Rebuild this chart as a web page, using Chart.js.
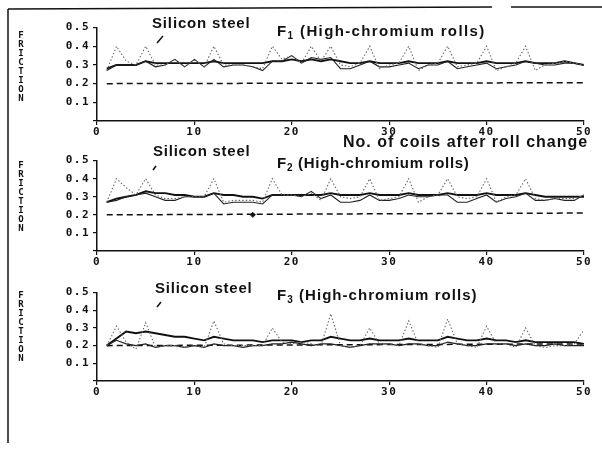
<!DOCTYPE html>
<html><head><meta charset="utf-8">
<script src="https://cdn.jsdelivr.net/npm/chart.js@4.4.1/dist/chart.umd.min.js"></script>
<style>
html,body{margin:0;padding:0;background:#fff;}
#wrap{position:relative;width:602px;height:450px;overflow:hidden;background:#fff;font-family:"Liberation Sans",Arial,sans-serif;color:#111;}
canvas{position:absolute;left:0;}
.lbl{position:absolute;font-weight:bold;font-size:15px;line-height:15px;white-space:nowrap;}
.lbl sub{font-size:10px;vertical-align:-3px;line-height:0;}
.yt{position:absolute;left:17px;width:8px;font:bold 9px/9px "DejaVu Sans Mono",monospace;word-break:break-all;text-align:center;}
svg{position:absolute;left:0;top:0;}
</style></head>
<body><div id="wrap">
<canvas id="c1" width="602" height="123" style="top:18px"></canvas>
<canvas id="c2" width="602" height="120" style="top:151px"></canvas>
<canvas id="c3" width="602" height="118" style="top:283px"></canvas>

<svg width="602" height="450">
  <g stroke="#111" stroke-width="1.5" fill="none">
    <line x1="8" y1="9" x2="492" y2="7"/>
    <line x1="511" y1="7" x2="602" y2="7"/>
    <line x1="8" y1="9" x2="8" y2="443"/>
    <line x1="163" y1="36" x2="157" y2="43"/>
    <line x1="156" y1="166" x2="153" y2="170"/>
    <line x1="161" y1="302" x2="157" y2="307"/>
  </g>
</svg>

<div class="yt" style="top:31px">FRICTION</div>
<div class="yt" style="top:161px">FRICTION</div>
<div class="yt" style="top:291px">FRICTION</div>

<div class="lbl" style="left:152px;top:15px" data-w="99">Silicon steel</div>
<div class="lbl" style="left:277px;top:23px" data-w="209">F<sub>1</sub> (High-chromium rolls)</div>
<div class="lbl" style="left:343px;top:134px;font-size:16px;line-height:16px" data-w="245">No. of coils after roll change</div>
<div class="lbl" style="left:153px;top:143px" data-w="98">Silicon steel</div>
<div class="lbl" style="left:277px;top:155px" data-w="193">F<sub>2</sub> (High-chromium rolls)</div>
<div class="lbl" style="left:155px;top:280px" data-w="98">Silicon steel</div>
<div class="lbl" style="left:277px;top:287px" data-w="201">F<sub>3</sub> (High-chromium rolls)</div>
</div>

<script>
/* friction vs. coils after roll change, stands F1-F3 */
const coils=[1,2,3,4,5,6,7,8,9,10,11,12,13,14,15,16,17,18,19,20,21,22,23,24,25,
  26,27,28,29,30,31,32,33,34,35,36,37,38,39,40,41,42,43,44,45,46,47,48,49,50];
const baseX=[1,50];

const f1Dotted=[.27,.40,.32,.30,.40,.30,.30,.33,.29,.33,.29,.40,.30,.30,.30,.29,.28,.40,.33,.35,
  .31,.40,.32,.40,.30,.29,.31,.40,.28,.30,.31,.40,.27,.30,.31,.40,.29,.30,.31,.40,
  .27,.29,.31,.40,.27,.30,.31,.32,.31,.30];
const f1Thin=[.27,.30,.30,.30,.32,.29,.30,.33,.29,.33,.29,.33,.29,.30,.30,.29,.27,.32,.32,.35,
  .31,.34,.33,.34,.28,.28,.30,.32,.29,.29,.30,.31,.28,.30,.30,.32,.28,.29,.30,.31,
  .28,.29,.30,.32,.31,.30,.30,.31,.31,.30];
const f1Solid=[.28,.30,.30,.30,.32,.31,.31,.31,.31,.31,.31,.32,.31,.31,.31,.31,.31,.32,.32,.33,
  .32,.33,.32,.33,.32,.31,.31,.32,.31,.31,.31,.32,.31,.31,.31,.32,.31,.31,.31,.32,
  .31,.31,.31,.32,.31,.31,.31,.32,.31,.30];
const f1Base=[.20,.205];

const f2Dotted=[.27,.40,.35,.31,.40,.31,.29,.29,.30,.30,.30,.40,.27,.28,.28,.28,.27,.40,.31,.31,
  .30,.32,.28,.40,.30,.29,.30,.40,.28,.29,.30,.40,.27,.30,.31,.40,.30,.29,.30,.40,
  .27,.30,.31,.40,.29,.28,.29,.29,.29,.31];
const f2Thin=[.27,.28,.30,.31,.32,.30,.28,.28,.30,.30,.30,.32,.26,.27,.27,.27,.26,.31,.31,.31,
  .30,.33,.29,.31,.27,.27,.28,.31,.28,.28,.29,.31,.30,.30,.31,.31,.27,.27,.29,.31,
  .27,.29,.30,.32,.28,.28,.29,.28,.28,.31];
const f2Solid=[.27,.29,.30,.31,.33,.32,.32,.31,.31,.30,.30,.32,.31,.31,.30,.30,.29,.31,.31,.31,
  .31,.31,.31,.32,.31,.31,.31,.32,.31,.31,.31,.32,.31,.31,.31,.32,.31,.31,.31,.32,
  .31,.31,.31,.32,.31,.30,.30,.30,.30,.30];
const f2Base=[.20,.21];
const f2MarkX=[16], f2MarkY=[.20];

const f3Dotted=[.20,.31,.22,.18,.33,.19,.20,.20,.19,.20,.19,.34,.21,.20,.20,.20,.20,.30,.22,.21,
  .22,.21,.20,.38,.20,.19,.20,.30,.21,.21,.20,.34,.21,.20,.19,.35,.21,.20,.19,.31,
  .21,.21,.19,.30,.20,.19,.20,.20,.21,.29];
const f3Thin=[.20,.23,.21,.20,.21,.19,.20,.20,.19,.20,.19,.21,.20,.20,.19,.20,.20,.21,.21,.22,
  .21,.20,.21,.21,.20,.19,.20,.21,.21,.21,.20,.21,.21,.20,.20,.22,.21,.20,.20,.21,
  .21,.21,.20,.21,.20,.20,.21,.20,.20,.20];
const f3Solid=[.20,.24,.28,.27,.28,.27,.26,.25,.25,.24,.23,.25,.24,.23,.23,.23,.22,.23,.23,.23,
  .22,.23,.23,.25,.24,.23,.23,.24,.23,.23,.23,.24,.23,.23,.23,.25,.24,.23,.23,.24,
  .23,.23,.22,.23,.22,.22,.22,.22,.22,.21];
const f3Base=[.20,.21];

(function(){
  const $=id=>document.getElementById(id);
  const INK='#111', TF={family:'"DejaVu Sans Mono", monospace',size:11,weight:'bold'};
  const pts=(xs,ys)=>ys.map((y,i)=>({x:xs[i],y}));
  // plotter-style spaced digits on the tick labels
  const spaced={id:'spaced',
    beforeUpdate(c){c.ctx.letterSpacing='1.5px';},
    beforeDraw(c){c.ctx.letterSpacing='1.5px';}};

  function panel(id,dotted,thin,solid,base,mark){
    const ds=[
      {data:pts(coils,dotted),borderColor:'#6a6a6a',borderWidth:1.1,borderDash:[1.5,2]},
      {data:pts(coils,thin),borderColor:'#222',borderWidth:1.1},
      {data:pts(coils,solid),borderColor:INK,borderWidth:1.9},
      {data:pts(baseX,base),borderColor:INK,borderWidth:1.5,borderDash:[6,4]}
    ];
    if(mark) ds.push({data:pts(mark[0],mark[1]),showLine:false,pointRadius:2.5,pointStyle:'rectRot',backgroundColor:INK,borderColor:INK});
    ds.forEach(d=>{d.fill=false;d.tension=0;if(d.pointRadius===undefined)d.pointRadius=0;});
    new Chart($(id),{type:'line',data:{datasets:ds},plugins:[spaced],options:{
      responsive:false,animation:false,events:[],
      layout:{padding:{top:8,right:18,left:0,bottom:0}},
      plugins:{legend:{display:false},tooltip:{enabled:false}},
      scales:{
        x:{type:'linear',min:0,max:50,afterFit:s=>{s.height=20;},
           ticks:{stepSize:10,color:INK,font:TF,padding:1,maxRotation:0},
           grid:{drawOnChartArea:false,tickLength:4,color:INK,lineWidth:1.2},
           border:{color:INK,width:1.5}},
        y:{min:0,max:0.5,afterFit:s=>{s.width=97;},
           ticks:{stepSize:0.1,color:INK,font:TF,padding:3,callback:v=>v>0.001?v.toFixed(1):''},
           grid:{drawOnChartArea:false,tickLength:4,color:INK,lineWidth:1.2},
           border:{color:INK,width:1.5}}
      }}});
  }

  panel('c1',f1Dotted,f1Thin,f1Solid,f1Base);
  panel('c2',f2Dotted,f2Thin,f2Solid,f2Base,[f2MarkX,f2MarkY]);
  panel('c3',f3Dotted,f3Thin,f3Solid,f3Base);

  // stretch the bold captions to the widths seen in the scan
  document.querySelectorAll('.lbl').forEach(el=>{
    const w=+el.dataset.w, n=el.textContent.length;
    el.style.letterSpacing='0px';
    el.style.letterSpacing=((w-el.offsetWidth)/n)+'px';
  });
})();
</script>
</body></html>
